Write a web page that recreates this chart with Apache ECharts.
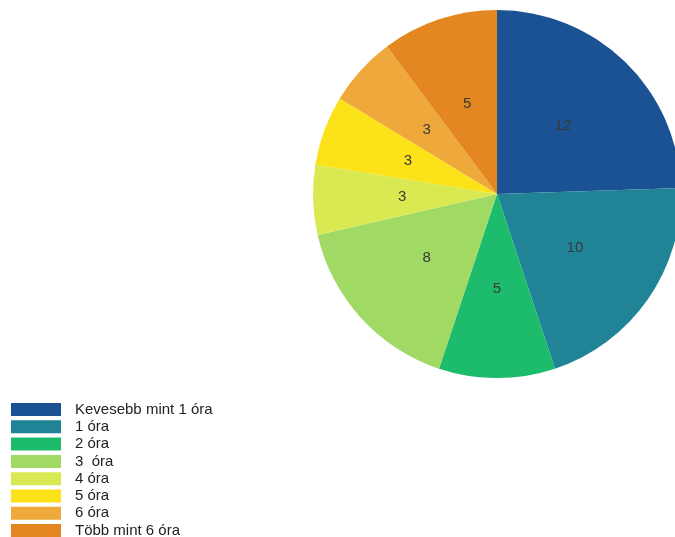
<!DOCTYPE html>
<html>
<head>
<meta charset="utf-8">
<style>
  html, body { margin: 0; padding: 0; background: #fff; }
  #chart { width: 675px; height: 537px; }
</style>
<script src="https://cdn.jsdelivr.net/npm/echarts@6/dist/echarts.min.js"></script>
</head>
<body>
<div id="chart"></div>
<script>
// Daily hours categories and respondent counts
const categories = [
  'Kevesebb mint 1 óra',
  '1 óra',
  '2 óra',
  '3  óra',
  '4 óra',
  '5 óra',
  '6 óra',
  'Több mint 6 óra'
];
const counts = [12, 10, 5, 8, 3, 3, 3, 5];
const colors = ['#1a5294', '#218496', '#1dbb6c', '#a0d964', '#d8e952', '#fce218', '#efa83a', '#e58721'];

const chart = echarts.init(document.getElementById('chart'), null, { renderer: 'canvas' });

chart.setOption({
  animation: false,
  color: colors,
  legend: {
    orient: 'vertical',
    left: 11,
    top: 402,
    height: 220,
    itemWidth: 50,
    itemHeight: 13,
    itemGap: 2.3,
    icon: 'rect',
    padding: 0,
    textStyle: {
      fontFamily: 'Liberation Sans, Arial, sans-serif',
      fontSize: 15,
      color: '#222',
      lineHeight: 15,
      padding: [0, 0, 0, 9]
    },
    data: categories
  },
  series: [{
    type: 'pie',
    center: [497, 194],
    radius: 184,
    startAngle: 90,
    clockwise: true,
    avoidLabelOverlap: false,
    itemStyle: { borderWidth: 0 },
    label: {
      show: true,
      position: 'inside',
      formatter: '{c}',
      fontFamily: 'Liberation Sans, Arial, sans-serif',
      fontSize: 15,
      color: '#3a3a3a'
    },
    labelLine: { show: false },
    emphasis: { disabled: true },
    data: categories.map((name, i) => ({ name: name, value: counts[i] }))
  }]
});
</script>
</body>
</html>
